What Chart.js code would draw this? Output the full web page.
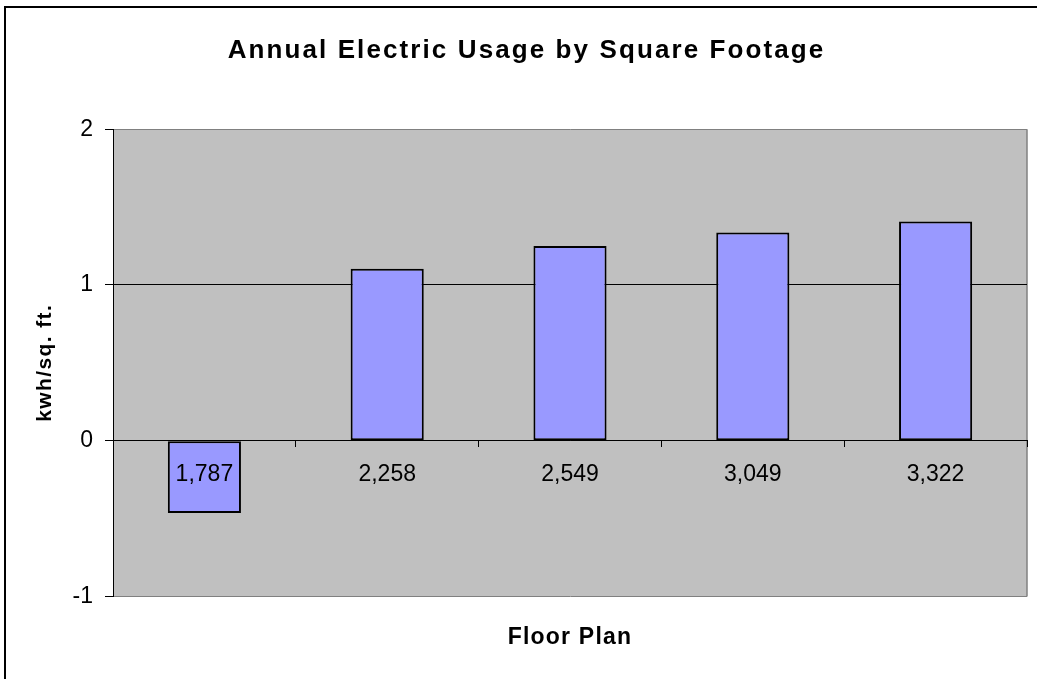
<!DOCTYPE html>
<html>
<head>
<meta charset="utf-8">
<script src="https://cdn.jsdelivr.net/npm/chart.js@4"></script>
<style>
    body { margin: 0; background: #fff; }
    #wrap { width: 1037px; height: 679px; position: relative; }
</style>
</head>
<body>
<div id="wrap"><canvas id="myChart"></canvas></div>
<script>
const floorPlans = ["1,787", "2,258", "2,549", "3,049", "3,322"];
const kwhPerSqFt = [-0.465, 1.104, 1.25, 1.336, 1.408];
const yMin = -1;
const yMax = 2;

const FONT = "'Liberation Sans', Arial, sans-serif";

// excel spreads its bold text out a bit, canvas needs letterSpacing for that
function spaced(obj, fnName, spacing, dx) {
    if (obj["_sp_" + fnName]) return;
    const orig = obj[fnName];
    obj[fnName] = function (...args) {
        const ctx = this.ctx;
        const prev = ctx.letterSpacing;
        ctx.save();
        ctx.translate(dx || 0, 0);
        ctx.letterSpacing = spacing;
        orig.apply(this, args);
        ctx.restore();
        ctx.letterSpacing = prev;
    };
    obj["_sp_" + fnName] = true;
}

const excelLook = {
    id: "excelLook",
    afterLayout(chart) {
        chart.boxes.forEach(box => {
            if (box.options && box.options.text !== undefined) {
                if (box.options.position === "top") {
                    spaced(box, "draw", "2.1px", 13);
                } else {
                    spaced(box, "draw", "1.2px", 0);
                }
            }
        });
        spaced(chart.scales.y, "drawTitle", "1.4px", 0);
    },
    beforeDraw(chart) {
        const { ctx, chartArea: a } = chart;
        ctx.save();
        // outer frame, runs off the right and bottom edge
        ctx.strokeStyle = "#000";
        ctx.lineWidth = 2;
        ctx.strokeRect(5, 7, 1200, 800);
        // plot area
        ctx.fillStyle = "#c0c0c0";
        ctx.fillRect(a.left, a.top, a.right - a.left, a.bottom - a.top);
        ctx.strokeStyle = "#808080";
        ctx.lineWidth = 1.5;
        ctx.beginPath();
        ctx.moveTo(a.right, a.top);
        ctx.lineTo(a.right, a.bottom);
        ctx.stroke();
        ctx.restore();
    }
};

const data = {
    labels: floorPlans,
    datasets: [
        {
            data: kwhPerSqFt,
            backgroundColor: "#9999ff",
            borderColor: "#000",
            borderWidth: 2,
            borderSkipped: false,
            barPercentage: 0.4,
            categoryPercentage: 1
        }
    ]
};

const config = {
    type: "bar",
    data: data,
    plugins: [excelLook],
    options: {
        responsive: true,
        maintainAspectRatio: false,
        animation: false,
        layout: { padding: { left: 0, right: 10, top: 0, bottom: 0 } },
        plugins: {
            legend: { display: false },
            tooltip: { enabled: false },
            title: {
                display: true,
                text: "Annual Electric Usage by Square Footage",
                color: "#000",
                font: { family: FONT, size: 26, weight: "bold", lineHeight: 1.2 },
                padding: { top: 35, bottom: 63 }
            },
            subtitle: {
                display: true,
                position: "bottom",
                fullSize: false,
                text: "Floor Plan",
                color: "#000",
                font: { family: FONT, size: 23, weight: "bold", lineHeight: 1.2 },
                padding: { top: 27, bottom: 28 }
            }
        },
        scales: {
            x: {
                position: { y: 0 },
                offset: true,
                afterFit(scale) { scale.height = 0; },
                grid: {
                    display: true,
                    offset: true,
                    drawOnChartArea: false,
                    drawTicks: true,
                    tickLength: 6,
                    tickColor: "#000"
                },
                border: { display: true, color: "#000", width: 1 },
                ticks: {
                    z: 1,
                    color: "#000",
                    padding: 14,
                    maxRotation: 0,
                    autoSkip: false,
                    font: { family: FONT, size: 23 }
                }
            },
            y: {
                min: yMin,
                max: yMax,
                afterFit(scale) { scale.width = 113; },
                title: {
                    display: true,
                    text: "kwh/sq. ft.",
                    color: "#000",
                    font: { family: FONT, size: 21, weight: "bold", lineHeight: 1.2 },
                    padding: { top: 33, bottom: 0 }
                },
                grid: {
                    color: ctx => (ctx.tick && (ctx.tick.value === yMax || ctx.tick.value === yMin)) ? "#808080" : "#000",
                    tickLength: 8,
                    tickColor: "#000"
                },
                border: { display: true, color: "#000", width: 1 },
                ticks: {
                    stepSize: 1,
                    color: "#000",
                    padding: 12,
                    font: { family: FONT, size: 23 }
                }
            }
        }
    }
};

new Chart(document.getElementById("myChart"), config);
</script>
</body>
</html>
